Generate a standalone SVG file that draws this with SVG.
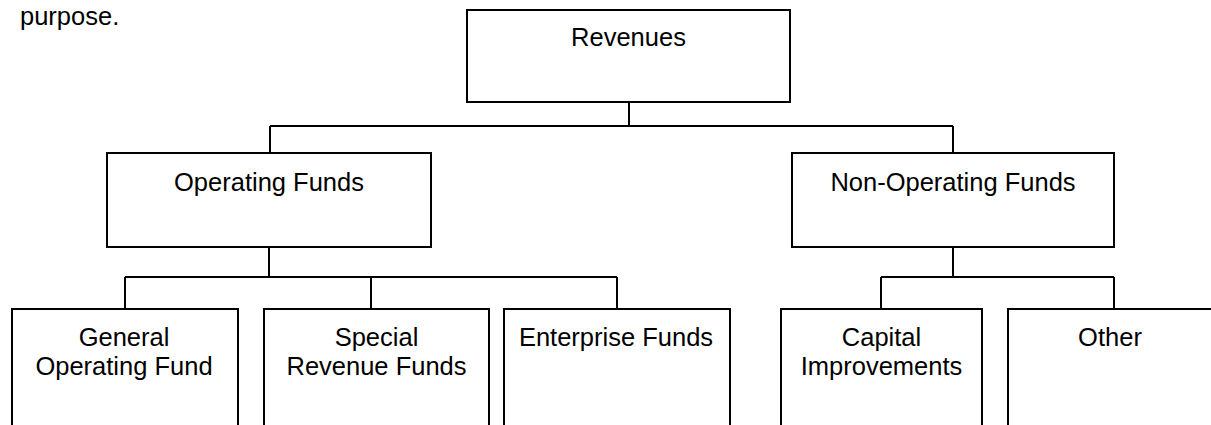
<svg xmlns="http://www.w3.org/2000/svg" width="1211" height="425" viewBox="0 0 1211 425">
<style>
.box{fill:#fff;stroke:#000;stroke-width:2}
.conn{fill:none;stroke:#000;stroke-width:2}
text{font-family:"Liberation Sans",Arial,sans-serif;font-size:25.5px;fill:#000}
.c{text-anchor:middle}
</style>
<rect width="1211" height="425" fill="#fff"/>
<text x="20" y="25">purpose.</text>
<g id="connectors">
<path class="conn" d="M629 102V126M270 126H953M270 126V153M953 126V153"/>
<path class="conn" d="M269 247V277M125 277H617M125 277V309M371 277V309M617 277V309"/>
<path class="conn" d="M953 247V277M881 277H1114M881 277V309M1114 277V309"/>
</g>
<g id="revenues">
<rect class="box" x="467" y="10" width="323" height="92"/>
<text class="c" x="628.5" y="46">Revenues</text>
</g>
<g id="operating">
<rect class="box" x="107" y="153" width="324" height="94"/>
<text class="c" x="269" y="191">Operating Funds</text>
</g>
<g id="nonoperating">
<rect class="box" x="792" y="153" width="322" height="94"/>
<text class="c" x="953" y="191">Non-Operating Funds</text>
</g>
<g id="general">
<rect class="box" x="12" y="309" width="226" height="140"/>
<text class="c" x="124" y="346">General</text>
<text class="c" x="124" y="375">Operating Fund</text>
</g>
<g id="special">
<rect class="box" x="264" y="309" width="225" height="140"/>
<text class="c" x="376.5" y="346">Special</text>
<text class="c" x="376.5" y="375">Revenue Funds</text>
</g>
<g id="enterprise">
<rect class="box" x="504" y="309" width="226" height="140"/>
<text class="c" x="616" y="346">Enterprise Funds</text>
</g>
<g id="capital">
<rect class="box" x="781" y="309" width="201" height="140"/>
<text class="c" x="881.5" y="346">Capital</text>
<text class="c" x="881.5" y="375">Improvements</text>
</g>
<g id="other">
<rect class="box" x="1008" y="309" width="215" height="140"/>
<text class="c" x="1110" y="346">Other</text>
</g>
</svg>
